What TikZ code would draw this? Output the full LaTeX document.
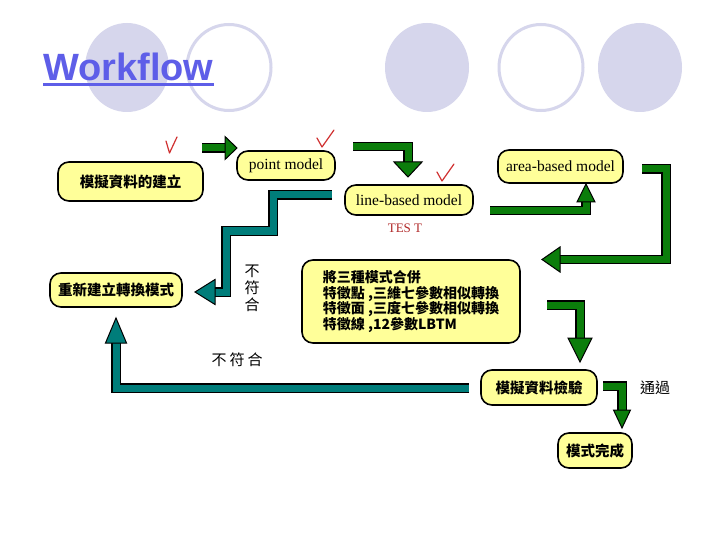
\documentclass[tikz,border=0pt]{standalone}
\usepackage{fontspec}
\usepackage{xcolor}
\usepackage{tikz}
\setmainfont{Liberation Serif}
\newfontfamily\cjk{Noto Sans CJK TC}
\newfontfamily\titlefont{Liberation Sans}
\definecolor{boxyellow}{HTML}{FFFF99}
\definecolor{arrowgreen}{HTML}{0B7D0B}
\definecolor{arrowteal}{HTML}{007D7A}
\definecolor{ringlav}{HTML}{D6D6EC}
\definecolor{titleblue}{HTML}{5E5EE8}
\definecolor{tickred}{HTML}{D03030}

% block arrow head: colour, tip, direction, length, half width
\newcommand\blockhead[5]{%
  \filldraw[fill=#1, draw=black, line width=1pt, line join=miter, shift={(#2)}, rotate=#3]
    (0,0) -- (-#4,#5) -- (-#4,-#5) -- cycle;}

\begin{document}
\begin{tikzpicture}[x=1pt, y=-1pt,
    box/.style={draw=black, line width=1.6pt, fill=boxyellow, rounded corners=11pt,
      inner sep=0pt, font=\cjk\bfseries\fontsize{14.5}{16}\selectfont},
    ebox/.style={box, font=\fontsize{15.5}{17}\selectfont},
    shaft/.style={draw=#1, line width=7pt, line join=miter,
      preaction={draw=black, line width=9.5pt}},
    note/.style={font=\cjk\fontsize{15}{17}\selectfont}]
  \fill[white] (0,0) rectangle (720,540);
  \useasboundingbox (0,0) rectangle (720,540);

  % rings behind the title
  \foreach \cx in {127,427,640}
    \fill[ringlav] (\cx,67.5) ellipse [x radius=42, y radius=44.5];
  \foreach \cx in {229,541}
    \draw[ringlav, line width=3pt] (\cx,67.5) ellipse [x radius=42, y radius=43];
  \node[anchor=base west, inner sep=0pt, text=titleblue,
    font=\titlefont\bfseries\fontsize{38}{38}\selectfont] (title) at (43,81) {Workflow};
  \draw[titleblue, line width=2.5pt]
    ([yshift=-3.5pt]title.base west) -- ([yshift=-3.5pt]title.base east);

  % boxes
  \node[box, minimum width=145pt, minimum height=39pt] (build) at (130.5,181.5) {模擬資料的建立};
  \node[ebox, minimum width=98pt, minimum height=29pt] (point) at (286,165.5) {point model};
  \node[ebox, minimum width=128pt, minimum height=30pt] (line) at (409,200) {line-based model};
  \node[ebox, minimum width=125pt, minimum height=33pt] (area) at (560.5,166.5) {area-based model};
  \node[box, minimum width=132pt, minimum height=34pt] (rebuild) at (116,290) {重新建立轉換模式};
  \node[box, minimum width=218pt, minimum height=83pt, align=left,
    font=\cjk\bfseries\fontsize{14}{15.5}\selectfont] (merge) at (411,301.5)
    {將三種模式合併\\特徵點 ,三維七參數相似轉換\\特徵面 ,三度七參數相似轉換\\特徵線 ,12參數LBTM};
  \node[box, minimum width=116pt, minimum height=35pt] (check) at (539,387.5) {模擬資料檢驗};
  \node[box, minimum width=74pt, minimum height=35pt] (done) at (595,450.5) {模式完成};
  \node[text=tickred!85!black, font=\fontsize{13}{13}\selectfont] (test) at (405,228) {TES T};

  % green arrows
  \coordinate (g1s) at (202,148);   \coordinate (g1e) at (227,148);   \coordinate (g1tip) at (237,148);
  \draw[shaft=arrowgreen] (g1s) -- (g1e);
  \blockhead{arrowgreen}{g1tip}{0}{12}{11.5}
  \coordinate (g2s) at (353,146.5); \coordinate (g2b) at (408,146.5); \coordinate (g2e) at (408,164);
  \coordinate (g2tip) at (408,177);
  \draw[shaft=arrowgreen] (g2s) -- (g2b) -- (g2e);
  \blockhead{arrowgreen}{g2tip}{-90}{15}{14}
  \coordinate (g3s) at (490,210.5); \coordinate (g3b) at (586,210.5); \coordinate (g3e) at (586,200);
  \coordinate (g3tip) at (586,184);
  \draw[shaft=arrowgreen] (g3s) -- (g3b) -- (g3e);
  \blockhead{arrowgreen}{g3tip}{90}{18}{9}
  \coordinate (g4s) at (642,169);   \coordinate (g4b) at (666,169);   \coordinate (g4c) at (666,259.5);
  \coordinate (g4e) at (558,259.5); \coordinate (g4tip) at (542,259.5);
  \draw[shaft=arrowgreen] (g4s) -- (g4b) -- (g4c) -- (g4e);
  \blockhead{arrowgreen}{g4tip}{180}{18}{12.5}
  \coordinate (g5s) at (547,305);   \coordinate (g5b) at (580,305);   \coordinate (g5e) at (580,340);
  \coordinate (g5tip) at (580,362);
  \draw[shaft=arrowgreen] (g5s) -- (g5b) -- (g5e);
  \blockhead{arrowgreen}{g5tip}{-90}{24}{12}
  \coordinate (g6s) at (603,386);   \coordinate (g6b) at (622,386);   \coordinate (g6e) at (622,412);
  \coordinate (g6tip) at (622,428);
  \draw[shaft=arrowgreen] (g6s) -- (g6b) -- (g6e);
  \blockhead{arrowgreen}{g6tip}{-90}{18}{8.5}

  % teal arrows (back to rebuild)
  \coordinate (t1s) at (332,195);   \coordinate (t1b) at (273,195);   \coordinate (t1c) at (273,231);
  \coordinate (t1d) at (226,231);   \coordinate (t1f) at (226,292);   \coordinate (t1e) at (213,292);
  \coordinate (t1tip) at (195,292);
  \draw[shaft=arrowteal] (t1s) -- (t1b) -- (t1c) -- (t1d) -- (t1f) -- (t1e);
  \blockhead{arrowteal}{t1tip}{180}{20}{12.5}
  \coordinate (t2s) at (469,388);   \coordinate (t2b) at (116,388);   \coordinate (t2e) at (116,341);
  \coordinate (t2tip) at (116,318);
  \draw[shaft=arrowteal] (t2s) -- (t2b) -- (t2e);
  \blockhead{arrowteal}{t2tip}{90}{25}{10.5}

  % labels
  \node[note, align=center] (misfitv) at (252,288) {不\\符\\合};
  \node[note] (misfith) at (237,360) {不\hspace{3pt}符\hspace{3pt}合};
  \node[note] (pass) at (655,388) {通過};

  % ticks
  \draw[tickred, line width=1.2pt, line cap=round, line join=round] (166,141) -- (169.5,153) -- (177,137);
  \draw[tickred, line width=1.2pt, line cap=round, line join=round] (317,138) -- (322,147) -- (334,130);
  \draw[tickred, line width=1.2pt, line cap=round, line join=round] (437,172) -- (442,181) -- (454,164);
\end{tikzpicture}
\end{document}
